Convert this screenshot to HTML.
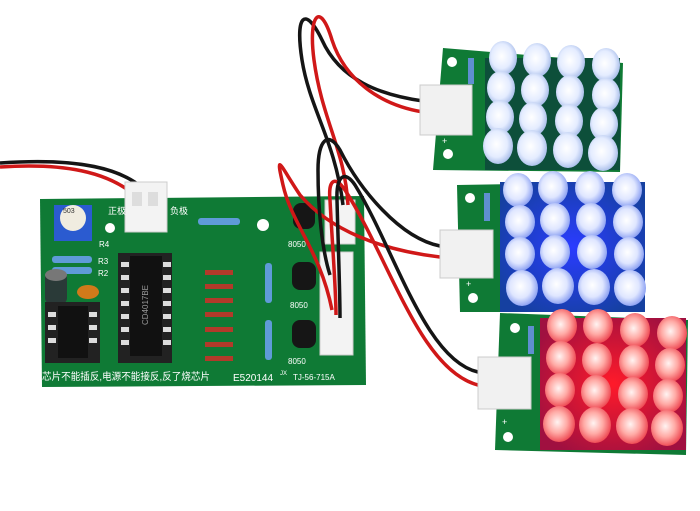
<!DOCTYPE html>
<html><head><meta charset="utf-8"><style>
body{margin:0;background:#fff;width:700px;height:511px;overflow:hidden}
svg{display:block}
text{font-family:"Liberation Sans","Noto Sans CJK SC",sans-serif}
</style></head><body>
<svg width="700" height="511" viewBox="0 0 700 511">
<defs>
<radialGradient id="gw" cx="45%" cy="45%" r="60%"><stop offset="0" stop-color="#fff"/><stop offset="0.6" stop-color="#e4ecff"/><stop offset="1" stop-color="#9fb6e6"/></radialGradient>
<radialGradient id="gb" cx="45%" cy="45%" r="60%"><stop offset="0" stop-color="#ffffff"/><stop offset="0.55" stop-color="#dfe6ff"/><stop offset="1" stop-color="#7e95f0"/></radialGradient>
<radialGradient id="gr" cx="45%" cy="45%" r="60%"><stop offset="0" stop-color="#fff4f2"/><stop offset="0.5" stop-color="#ffaaa5"/><stop offset="1" stop-color="#ec3c48"/></radialGradient>
<radialGradient id="bglow" cx="50%" cy="50%" r="60%"><stop offset="0" stop-color="#2a3cff"/><stop offset="1" stop-color="#1540a0"/></radialGradient>
<radialGradient id="rglow" cx="50%" cy="50%" r="60%"><stop offset="0" stop-color="#ff1a2a"/><stop offset="1" stop-color="#a01040"/></radialGradient>
</defs>
<rect width="700" height="511" fill="#fff"/>
<path d="M0 167 C60 163 110 170 140 200" stroke="#d01818" stroke-width="3.5" fill="none"/>
<path d="M0 163 C70 158 130 165 153 200" stroke="#151515" stroke-width="3.5" fill="none"/>
<polygon points="40,199 364,196 366,385 42,387" fill="#0f7a35"/>
<rect x="54" y="205" width="38" height="36" fill="#2b5bd0"/><circle cx="73" cy="218" r="13" fill="#f0ece0"/>
<text x="63" y="213" font-size="7" fill="#333">503</text>
<text x="99" y="247" font-size="8" fill="#fff">R4</text>
<circle cx="110" cy="228" r="5" fill="#fff"/><circle cx="263" cy="225" r="6" fill="#fff"/>
<rect x="125" y="182" width="42" height="50" fill="#f3f3f3" stroke="#ccc"/>
<rect x="132" y="192" width="10" height="14" fill="#ddd"/><rect x="148" y="192" width="10" height="14" fill="#ddd"/>
<text x="108" y="214" font-size="9" fill="#fff">正极</text>
<text x="170" y="214" font-size="9" fill="#fff">负极</text>
<rect x="52" y="256" width="40" height="7" rx="3" fill="#5f9bd8"/><rect x="52" y="267" width="40" height="7" rx="3" fill="#5f9bd8"/>
<text x="98" y="264" font-size="8" fill="#fff">R3</text><text x="98" y="276" font-size="8" fill="#fff">R2</text>
<rect x="198" y="218" width="42" height="7" rx="3" fill="#5f9bd8"/>
<rect x="265" y="263" width="7" height="40" rx="3" fill="#5f9bd8"/><rect x="265" y="320" width="7" height="40" rx="3" fill="#5f9bd8"/>
<rect x="45" y="272" width="22" height="32" rx="6" fill="#2a3a38"/><ellipse cx="56" cy="275" rx="11" ry="6" fill="#777"/>
<ellipse cx="88" cy="292" rx="11" ry="7" fill="#d07a1a"/>
<rect x="45" y="302" width="55" height="61" fill="#222"/>
<rect x="58" y="306" width="30" height="52" fill="#111"/>
<rect x="118" y="253" width="54" height="110" fill="#222"/>
<rect x="130" y="256" width="32" height="100" fill="#111"/>
<g fill="#ddd"><rect x="48" y="312" width="8" height="5"/><rect x="48" y="325" width="8" height="5"/><rect x="48" y="338" width="8" height="5"/><rect x="89" y="312" width="8" height="5"/><rect x="89" y="325" width="8" height="5"/><rect x="89" y="338" width="8" height="5"/>
<rect x="121" y="262" width="8" height="5"/><rect x="121" y="275" width="8" height="5"/><rect x="121" y="288" width="8" height="5"/><rect x="121" y="301" width="8" height="5"/><rect x="121" y="314" width="8" height="5"/><rect x="121" y="327" width="8" height="5"/><rect x="121" y="340" width="8" height="5"/>
<rect x="163" y="262" width="8" height="5"/><rect x="163" y="275" width="8" height="5"/><rect x="163" y="288" width="8" height="5"/><rect x="163" y="301" width="8" height="5"/><rect x="163" y="314" width="8" height="5"/><rect x="163" y="327" width="8" height="5"/><rect x="163" y="340" width="8" height="5"/></g>
<text x="148" y="325" font-size="8" fill="#999" transform="rotate(-90 148 325)">CD4017BE</text>
<g fill="#b23a2a"><rect x="205" y="270" width="28" height="5"/><rect x="205" y="284" width="28" height="5"/><rect x="205" y="298" width="28" height="5"/><rect x="205" y="312" width="28" height="5"/><rect x="205" y="327" width="28" height="5"/><rect x="205" y="342" width="28" height="5"/><rect x="205" y="356" width="28" height="5"/></g>
<rect x="293" y="203" width="22" height="26" rx="8" fill="#161616"/>
<rect x="292" y="262" width="24" height="28" rx="8" fill="#161616"/>
<rect x="292" y="320" width="24" height="28" rx="8" fill="#161616"/>
<text x="288" y="247" font-size="8" fill="#fff">8050</text><text x="290" y="308" font-size="8" fill="#fff">8050</text><text x="288" y="364" font-size="8" fill="#fff">8050</text>
<rect x="325" y="200" width="30" height="44" fill="#f3f3f3" stroke="#ccc"/>
<rect x="320" y="252" width="33" height="103" fill="#f3f3f3" stroke="#ccc"/>
<text x="42" y="380" font-size="10" fill="#fff" textLength="168" lengthAdjust="spacingAndGlyphs">芯片不能插反,电源不能接反,反了烧芯片</text>
<text x="233" y="381" font-size="10" fill="#fff">E520144</text>
<text x="280" y="375" font-size="6" fill="#fff">JX</text>
<text x="293" y="380" font-size="8" fill="#fff">TJ-56-715A</text>
<path d="M423 101 C380 95 340 80 322 40 C305 5 295 15 302 60 C310 110 335 140 343 205" stroke="#151515" stroke-width="3.5" fill="none"/>
<path d="M423 112 C380 105 345 80 332 40 C320 0 308 15 314 60 C322 120 345 150 348 205" stroke="#d01818" stroke-width="3.5" fill="none"/>
<path d="M440 257 C380 250 330 230 300 195 C280 165 275 150 283 185 C292 225 320 250 332 310" stroke="#d01818" stroke-width="3.5" fill="none"/>
<path d="M440 246 C400 238 360 190 340 150 C328 130 318 140 318 170 C318 210 322 250 330 275" stroke="#151515" stroke-width="3.5" fill="none"/>
<path d="M478 385 C420 370 390 260 345 190 C335 175 328 180 330 200 C332 240 336 290 336 315" stroke="#d01818" stroke-width="3.5" fill="none"/>
<path d="M478 372 C425 360 395 250 355 185 C345 170 336 175 337 200 C338 240 340 290 340 318" stroke="#151515" stroke-width="3.5" fill="none"/>
<polygon points="443,48 623,63 620,172 433,170" fill="#0f7a35"/>
<rect x="485" y="58" width="135" height="112" fill="#0d4f3a"/>
<circle cx="452" cy="62" r="5" fill="#fff"/><circle cx="448" cy="154" r="5" fill="#fff"/>
<rect x="468" y="58" width="6" height="26" fill="#5f8fd0"/>
<text x="442" y="144" font-size="9" fill="#fff">+</text>
<rect x="420" y="85" width="52" height="50" fill="#f1f1f1" stroke="#ccc"/>
<g fill="url(#gw)">
<ellipse cx="503" cy="58" rx="14" ry="17"/><ellipse cx="537" cy="60" rx="14" ry="17"/><ellipse cx="571" cy="62" rx="14" ry="17"/><ellipse cx="606" cy="65" rx="14" ry="17"/>
<ellipse cx="501" cy="88" rx="14" ry="17"/><ellipse cx="535" cy="90" rx="14" ry="17"/><ellipse cx="570" cy="92" rx="14" ry="17"/><ellipse cx="606" cy="95" rx="14" ry="17"/>
<ellipse cx="500" cy="117" rx="14" ry="17"/><ellipse cx="533" cy="119" rx="14" ry="17"/><ellipse cx="569" cy="121" rx="14" ry="17"/><ellipse cx="604" cy="124" rx="14" ry="17"/>
<ellipse cx="498" cy="146" rx="15" ry="18"/><ellipse cx="532" cy="148" rx="15" ry="18"/><ellipse cx="568" cy="150" rx="15" ry="18"/><ellipse cx="603" cy="153" rx="15" ry="18"/>
</g>
<polygon points="457,185 643,182 645,312 460,312" fill="#0f7a35"/>
<rect x="500" y="182" width="145" height="130" fill="url(#bglow)"/>
<circle cx="470" cy="198" r="5" fill="#fff"/><circle cx="473" cy="298" r="5" fill="#fff"/>
<rect x="484" y="193" width="6" height="28" fill="#5f8fd0"/>
<text x="466" y="287" font-size="9" fill="#fff">+</text>
<rect x="440" y="230" width="53" height="48" fill="#f1f1f1" stroke="#ccc"/>
<g fill="url(#gb)">
<ellipse cx="518" cy="190" rx="15" ry="17"/><ellipse cx="553" cy="188" rx="15" ry="17"/><ellipse cx="590" cy="188" rx="15" ry="17"/><ellipse cx="627" cy="190" rx="15" ry="17"/>
<ellipse cx="520" cy="222" rx="15" ry="17"/><ellipse cx="555" cy="220" rx="15" ry="17"/><ellipse cx="591" cy="220" rx="15" ry="17"/><ellipse cx="628" cy="222" rx="15" ry="17"/>
<ellipse cx="520" cy="254" rx="15" ry="17"/><ellipse cx="555" cy="252" rx="15" ry="17"/><ellipse cx="592" cy="252" rx="15" ry="17"/><ellipse cx="629" cy="254" rx="15" ry="17"/>
<ellipse cx="522" cy="288" rx="16" ry="18"/><ellipse cx="558" cy="286" rx="16" ry="18"/><ellipse cx="594" cy="287" rx="16" ry="18"/><ellipse cx="630" cy="288" rx="16" ry="18"/>
</g>
<polygon points="500,313 688,320 686,455 495,450" fill="#0f7a35"/>
<rect x="540" y="318" width="146" height="132" fill="url(#rglow)"/>
<circle cx="515" cy="328" r="5" fill="#fff"/><circle cx="508" cy="437" r="5" fill="#fff"/>
<rect x="528" y="326" width="6" height="28" fill="#5f8fd0"/>
<text x="502" y="425" font-size="9" fill="#fff">+</text>
<rect x="478" y="357" width="53" height="52" fill="#f1f1f1" stroke="#ccc"/>
<g fill="url(#gr)">
<ellipse cx="562" cy="326" rx="15" ry="17"/><ellipse cx="598" cy="326" rx="15" ry="17"/><ellipse cx="635" cy="330" rx="15" ry="17"/><ellipse cx="672" cy="333" rx="15" ry="17"/>
<ellipse cx="561" cy="358" rx="15" ry="17"/><ellipse cx="597" cy="360" rx="15" ry="17"/><ellipse cx="634" cy="362" rx="15" ry="17"/><ellipse cx="670" cy="365" rx="15" ry="17"/>
<ellipse cx="560" cy="390" rx="15" ry="17"/><ellipse cx="596" cy="392" rx="15" ry="17"/><ellipse cx="633" cy="394" rx="15" ry="17"/><ellipse cx="668" cy="396" rx="15" ry="17"/>
<ellipse cx="559" cy="424" rx="16" ry="18"/><ellipse cx="595" cy="425" rx="16" ry="18"/><ellipse cx="632" cy="426" rx="16" ry="18"/><ellipse cx="667" cy="428" rx="16" ry="18"/>
</g>
</svg>
</body></html>
